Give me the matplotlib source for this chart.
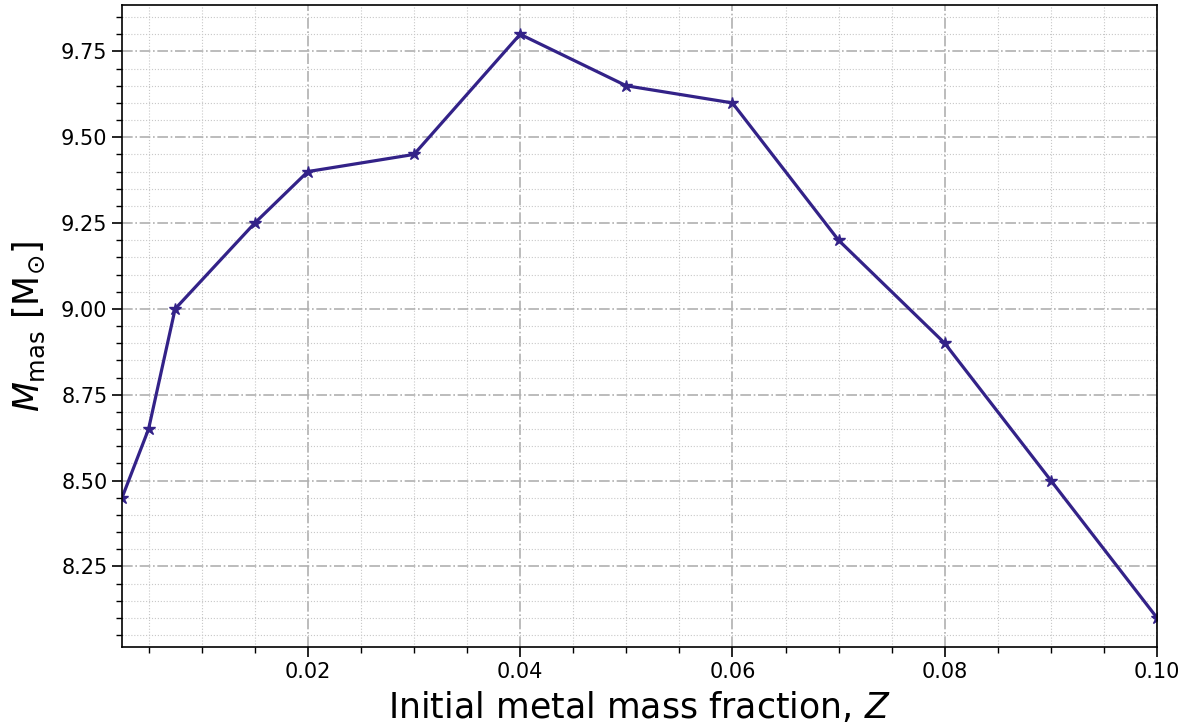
import matplotlib
matplotlib.use("Agg")
import matplotlib.pyplot as plt
from matplotlib.ticker import MultipleLocator

Z = [0.0025, 0.005, 0.0075, 0.015, 0.02, 0.03, 0.04, 0.05, 0.06, 0.07, 0.08, 0.09, 0.10]
M_mas = [8.45, 8.65, 9.00, 9.25, 9.40, 9.45, 9.80, 9.65, 9.60, 9.20, 8.90, 8.50, 8.10]

fig = plt.figure(figsize=(12, 7.27), dpi=100)
ax = fig.add_axes([0.1017, 0.11, 0.8625, 0.883])
ax.plot(Z, M_mas, color='#332288', marker='*', markersize=9, linewidth=2.3)
ax.set_xlim(min(Z), max(Z))
ax.margins(y=0.05)
ax.xaxis.set_major_locator(MultipleLocator(0.02))
ax.xaxis.set_minor_locator(MultipleLocator(0.005))
ax.yaxis.set_major_locator(MultipleLocator(0.25))
ax.yaxis.set_minor_locator(MultipleLocator(0.05))
ax.grid(which='major', color='#b0b0b0', linestyle='-.', linewidth=1.2)
ax.grid(which='minor', color='#c8c8c8', linestyle=':', linewidth=0.8)
ax.set_axisbelow(True)
ax.tick_params(which='major', length=7, width=1.2, labelsize=15)
ax.tick_params(which='minor', length=4, width=1)
for s in ax.spines.values():
    s.set_linewidth(1.2)
ax.set_xlabel('Initial metal mass fraction, $Z$', fontsize=25, labelpad=6)
ax.set_ylabel(r'$M_{\rm mas}$ [M$_{\odot}$]', fontsize=25, labelpad=10)
fig.savefig('out.png', dpi=100)
